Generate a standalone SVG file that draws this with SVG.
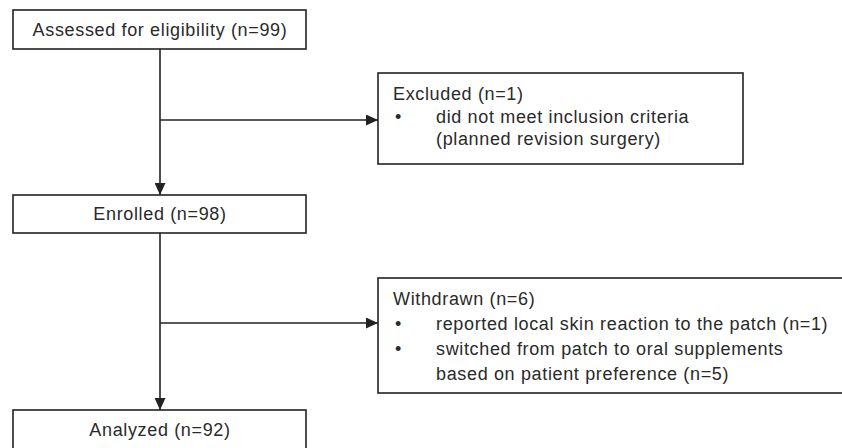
<svg xmlns="http://www.w3.org/2000/svg" width="842" height="448" viewBox="0 0 842 448">
<style>
.box{fill:#fff;stroke:#222;stroke-width:1.6}
.t{font-family:"Liberation Sans",Arial,sans-serif;font-size:18px;letter-spacing:0.65px;fill:#2a2a2a}
.c{text-anchor:middle}
.ln{stroke:#222;stroke-width:1.6;fill:none}
</style>
<defs>
<marker id="ah" viewBox="0 0 12 11" refX="12" refY="5.5" markerWidth="12" markerHeight="11" markerUnits="userSpaceOnUse" orient="auto">
<path d="M0,0 L12,5.5 L0,11 Z" fill="#222"/>
</marker>
</defs>
<rect width="842" height="448" fill="#fff"/>
<g id="connectors">
<line class="ln" x1="160" y1="49" x2="160" y2="195" marker-end="url(#ah)"/>
<line class="ln" x1="160" y1="120" x2="378" y2="120" marker-end="url(#ah)"/>
<line class="ln" x1="160" y1="233" x2="160" y2="410" marker-end="url(#ah)"/>
<line class="ln" x1="160" y1="323" x2="378" y2="323" marker-end="url(#ah)"/>
</g>
<g id="assessed">
<rect class="box" x="13" y="10" width="293" height="39"/>
<text class="t c" x="160" y="36">Assessed for eligibility (n=99)</text>
</g>
<g id="excluded">
<rect class="box" x="378" y="73" width="365" height="91"/>
<text class="t" x="393" y="100">Excluded (n=1)</text>
<text class="t" x="395" y="123">•</text>
<text class="t" x="436" y="123">did not meet inclusion criteria</text>
<text class="t" x="436" y="145">(planned revision surgery)</text>
</g>
<g id="enrolled">
<rect class="box" x="13" y="195" width="293" height="38"/>
<text class="t c" x="160" y="220">Enrolled (n=98)</text>
</g>
<g id="withdrawn">
<rect class="box" x="378" y="278" width="470" height="115"/>
<text class="t" x="393" y="305">Withdrawn (n=6)</text>
<text class="t" x="395" y="330">•</text>
<text class="t" x="436" y="330">reported local skin reaction to the patch (n=1)</text>
<text class="t" x="395" y="355">•</text>
<text class="t" x="436" y="355">switched from patch to oral supplements</text>
<text class="t" x="436" y="380">based on patient preference (n=5)</text>
</g>
<g id="analyzed">
<rect class="box" x="13" y="410" width="293" height="50"/>
<text class="t c" x="160" y="436">Analyzed (n=92)</text>
</g>
</svg>
